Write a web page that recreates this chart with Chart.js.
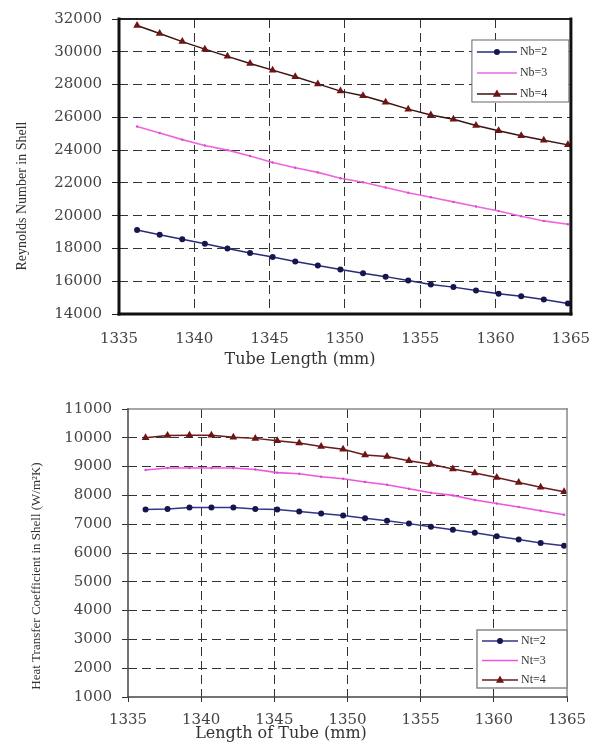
<!DOCTYPE html>
<html>
<head>
<meta charset="utf-8">
<script src="https://cdn.jsdelivr.net/npm/chart.js@4.4.1/dist/chart.umd.min.js"></script>
<style>
  body { margin: 0; background: #fff; }
  .wrap { position: absolute; left: 0; width: 606px; }
</style>
</head>
<body>
<div class="wrap" style="top:0;height:380px"><canvas id="reynoldsChart" width="606" height="380"></canvas></div>
<div class="wrap" style="top:380px;height:364px"><canvas id="heatChart" width="606" height="364"></canvas></div>
<script>
// tube length (mm)
const tubeLength = [1336.2, 1337.7, 1339.2, 1340.7, 1342.2, 1343.7, 1345.2, 1346.7, 1348.2, 1349.7,
                    1351.2, 1352.7, 1354.2, 1355.7, 1357.2, 1358.7, 1360.2, 1361.7, 1363.2, 1364.8];

// Reynolds number in shell
const reynoldsNb2 = [19120, 18840, 18560, 18280, 18000, 17720, 17480, 17200, 16960, 16720,
                     16480, 16280, 16040, 15800, 15640, 15440, 15240, 15080, 14880, 14640];
const reynoldsNb3 = [25440, 25040, 24640, 24280, 24000, 23640, 23240, 22920, 22640, 22280,
                     22040, 21720, 21400, 21120, 20840, 20560, 20280, 19960, 19680, 19480];
const reynoldsNb4 = [31600, 31120, 30620, 30160, 29720, 29280, 28880, 28480, 28040, 27600,
                     27320, 26920, 26500, 26140, 25880, 25500, 25180, 24880, 24600, 24320];

// heat transfer coefficient in shell
const heatNt2 = [7510, 7530, 7580, 7580, 7580, 7530, 7510, 7440, 7370, 7300,
                 7210, 7120, 7020, 6910, 6810, 6700, 6580, 6465, 6350, 6250];
const heatNt3 = [8880, 8950, 8950, 8950, 8950, 8900, 8790, 8750, 8650, 8580,
                 8465, 8370, 8230, 8090, 8000, 7840, 7720, 7600, 7470, 7330];
const heatNt4 = [10000, 10080, 10090, 10090, 10020, 9980, 9900, 9820, 9700, 9600,
                 9400, 9350, 9200, 9080, 8920, 8780, 8620, 8450, 8280, 8130];

const topLabels = ['Nb=2', 'Nb=3', 'Nb=4'];
const bottomLabels = ['Nt=2', 'Nt=3', 'Nt=4'];
const xTicks = [1335, 1340, 1345, 1350, 1355, 1360, 1365];

const toPoints = ys => ys.map((y, i) => ({ x: tubeLength[i], y: y }));

// box around the plot, each side its own width / colour
const framePlugin = {
  id: 'frame',
  afterDraw(chart, args, o) {
    const { ctx, chartArea: a } = chart;
    const side = (s, x1, y1, x2, y2) => {
      ctx.strokeStyle = s[1];
      ctx.lineWidth = s[0];
      ctx.beginPath();
      ctx.moveTo(x1, y1);
      ctx.lineTo(x2, y2);
      ctx.stroke();
    };
    ctx.save();
    ctx.lineCap = 'square';
    side(o.top, a.left, a.top, a.right, a.top);
    side(o.right, a.right, a.top, a.right, a.bottom);
    side(o.bottom, a.left, a.bottom, a.right, a.bottom);
    side(o.left, a.left, a.top, a.left, a.bottom);
    ctx.restore();
  }
};

// axis titles sit off-centre in the original
const titlePlugin = {
  id: 'titles',
  afterDraw(chart, args, o) {
    const ctx = chart.ctx;
    ctx.save();
    ctx.fillStyle = '#333';
    ctx.textAlign = 'center';
    ctx.textBaseline = 'middle';
    ctx.font = o.xFont;
    ctx.fillText(o.xText, o.xPos[0], o.xPos[1]);
    ctx.translate(o.yPos[0], o.yPos[1]);
    ctx.rotate(-Math.PI / 2);
    ctx.font = o.yFont;
    ctx.fillText(o.yText, 0, 0);
    ctx.restore();
  }
};

// legend box inside the plot
const legendPlugin = {
  id: 'boxLegend',
  afterDraw(chart, args, o) {
    const { ctx, chartArea: a } = chart;
    const x = a.right - o.right - o.width;
    const y = o.top != null ? a.top + o.top : a.bottom - o.bottom - o.height;
    ctx.save();
    ctx.fillStyle = '#fff';
    ctx.fillRect(x, y, o.width, o.height);
    ctx.strokeStyle = o.borderColor;
    ctx.lineWidth = o.borderWidth;
    ctx.strokeRect(x, y, o.width, o.height);
    chart.data.datasets.forEach((ds, i) => {
      const yy = y + o.rowStart + i * o.rowGap;
      const x0 = x + 5, x1 = x + 5 + o.sample, cx = (x0 + x1) / 2;
      ctx.strokeStyle = ds.borderColor;
      ctx.lineWidth = ds.borderWidth;
      ctx.beginPath();
      ctx.moveTo(x0, yy);
      ctx.lineTo(x1, yy);
      ctx.stroke();
      ctx.fillStyle = ds.pointBackgroundColor;
      const r = ds.pointRadius;
      if (r > 2 && ds.pointStyle === 'circle') {
        ctx.beginPath();
        ctx.arc(cx, yy, r, 0, Math.PI * 2);
        ctx.fill();
      } else if (r > 2 && ds.pointStyle === 'triangle') {
        ctx.beginPath();
        ctx.moveTo(cx, yy - r);
        ctx.lineTo(cx + r * 0.9, yy + r * 0.6);
        ctx.lineTo(cx - r * 0.9, yy + r * 0.6);
        ctx.closePath();
        ctx.fill();
      }
      ctx.fillStyle = '#333';
      ctx.font = o.font;
      ctx.textBaseline = 'middle';
      ctx.textAlign = 'left';
      ctx.fillText(ds.label, x1 + 3, yy);
    });
    ctx.restore();
  }
};

function makeDatasets(labels, s2, s3, s4, look) {
  return [
    { label: labels[0], data: toPoints(s2), borderColor: look.c2, borderWidth: 1.5,
      pointStyle: 'circle', pointRadius: 3, pointBackgroundColor: '#16164e', pointBorderWidth: 0 },
    { label: labels[1], data: toPoints(s3), borderColor: look.c3, borderWidth: 1.6,
      pointStyle: 'circle', pointRadius: 1.2, pointBackgroundColor: '#d84ccc', pointBorderWidth: 0 },
    { label: labels[2], data: toPoints(s4), borderColor: look.c4, borderWidth: 1.5,
      pointStyle: 'triangle', pointRadius: 4.5, pointBackgroundColor: '#6e1414', pointBorderWidth: 0 }
  ];
}

function gridColor(min, max, color) {
  return c => (c.tick && (c.tick.value === min || c.tick.value === max)) ? 'rgba(0,0,0,0)' : color;
}

const tickFont = { family: '"DejaVu Serif", serif', size: 15 };
const plain = v => String(v);

// Reynolds number chart
new Chart(document.getElementById('reynoldsChart').getContext('2d'), {
  type: 'line',
  data: { datasets: makeDatasets(topLabels, reynoldsNb2, reynoldsNb3, reynoldsNb4,
    { c2: '#2a2a78', c3: '#ee66dd', c4: '#3a1212' }) },
  options: {
    responsive: false,
    animation: false,
    devicePixelRatio: 1,
    layout: { padding: { top: 14, right: 29, left: 0, bottom: 0 } },
    plugins: {
      legend: { display: false },
      tooltip: { enabled: false },
      frame: { top: [2, '#222'], right: [3, '#111'], bottom: [3, '#111'], left: [3, '#111'] },
      titles: {
        xText: 'Tube Length (mm)', xFont: '16px "DejaVu Serif", serif', xPos: [300, 360],
        yText: 'Reynolds Number in Shell', yFont: '14px "Liberation Serif", serif', yPos: [22, 196]
      },
      boxLegend: { right: 2, top: 21, width: 97, height: 62, rowStart: 12, rowGap: 21, sample: 40,
        borderColor: '#666', borderWidth: 1, font: '12px "Liberation Serif", serif' }
    },
    scales: {
      x: {
        type: 'linear', min: 1335, max: 1365,
        afterBuildTicks: s => { s.ticks = xTicks.map(v => ({ value: v })); },
        afterFit: s => { s.height = 66; },
        grid: { color: gridColor(1335, 1365, '#333'), lineWidth: 1, drawTicks: false },
        border: { display: false, dash: [9, 5] },
        ticks: { font: tickFont, color: '#444', padding: 16, maxRotation: 0, callback: plain }
      },
      y: {
        min: 14000, max: 32000,
        afterFit: s => { s.width = 119; },
        grid: { color: gridColor(14000, 32000, '#333'), tickColor: '#222', tickLength: 7, lineWidth: 1 },
        border: { display: false, dash: [9, 5] },
        ticks: { stepSize: 2000, font: tickFont, color: '#444', padding: 10, callback: plain }
      }
    }
  },
  plugins: [framePlugin, titlePlugin, legendPlugin]
});

// heat transfer coefficient chart
new Chart(document.getElementById('heatChart').getContext('2d'), {
  type: 'line',
  data: { datasets: makeDatasets(bottomLabels, heatNt2, heatNt3, heatNt4,
    { c2: '#333388', c3: '#ee55dd', c4: '#6a1a1a' }) },
  options: {
    responsive: false,
    animation: false,
    devicePixelRatio: 1,
    layout: { padding: { top: 29, right: 39, left: 0, bottom: 0 } },
    plugins: {
      legend: { display: false },
      tooltip: { enabled: false },
      frame: { top: [1.5, '#888'], right: [1.5, '#888'], bottom: [1.5, '#444'], left: [1.5, '#444'] },
      titles: {
        xText: 'Length of Tube (mm)', xFont: '16px "DejaVu Serif", serif', xPos: [281, 354],
        yText: 'Heat Transfer Coefficient in Shell (W/m²K)', yFont: '13px "Liberation Serif", serif', yPos: [37, 196]
      },
      boxLegend: { right: 0, bottom: 9, width: 90, height: 58, rowStart: 11, rowGap: 19.5, sample: 36,
        borderColor: '#888', borderWidth: 1.5, font: '12px "Liberation Serif", serif' }
    },
    scales: {
      x: {
        type: 'linear', min: 1335, max: 1365,
        afterBuildTicks: s => { s.ticks = xTicks.map(v => ({ value: v })); },
        afterFit: s => { s.height = 47; },
        grid: { color: gridColor(1335, 1365, '#333'), tickColor: '#333', tickLength: 5, lineWidth: 1 },
        border: { display: false, dash: [9, 5] },
        ticks: { font: tickFont, color: '#444', padding: 9, maxRotation: 0, callback: plain }
      },
      y: {
        min: 1000, max: 11000,
        afterFit: s => { s.width = 128; },
        grid: { color: gridColor(1000, 11000, '#333'), tickColor: '#333', tickLength: 6, lineWidth: 1 },
        border: { display: false, dash: [9, 5] },
        ticks: { stepSize: 1000, font: tickFont, color: '#444', padding: 10, callback: plain }
      }
    }
  },
  plugins: [framePlugin, titlePlugin, legendPlugin]
});
</script>
</body>
</html>
